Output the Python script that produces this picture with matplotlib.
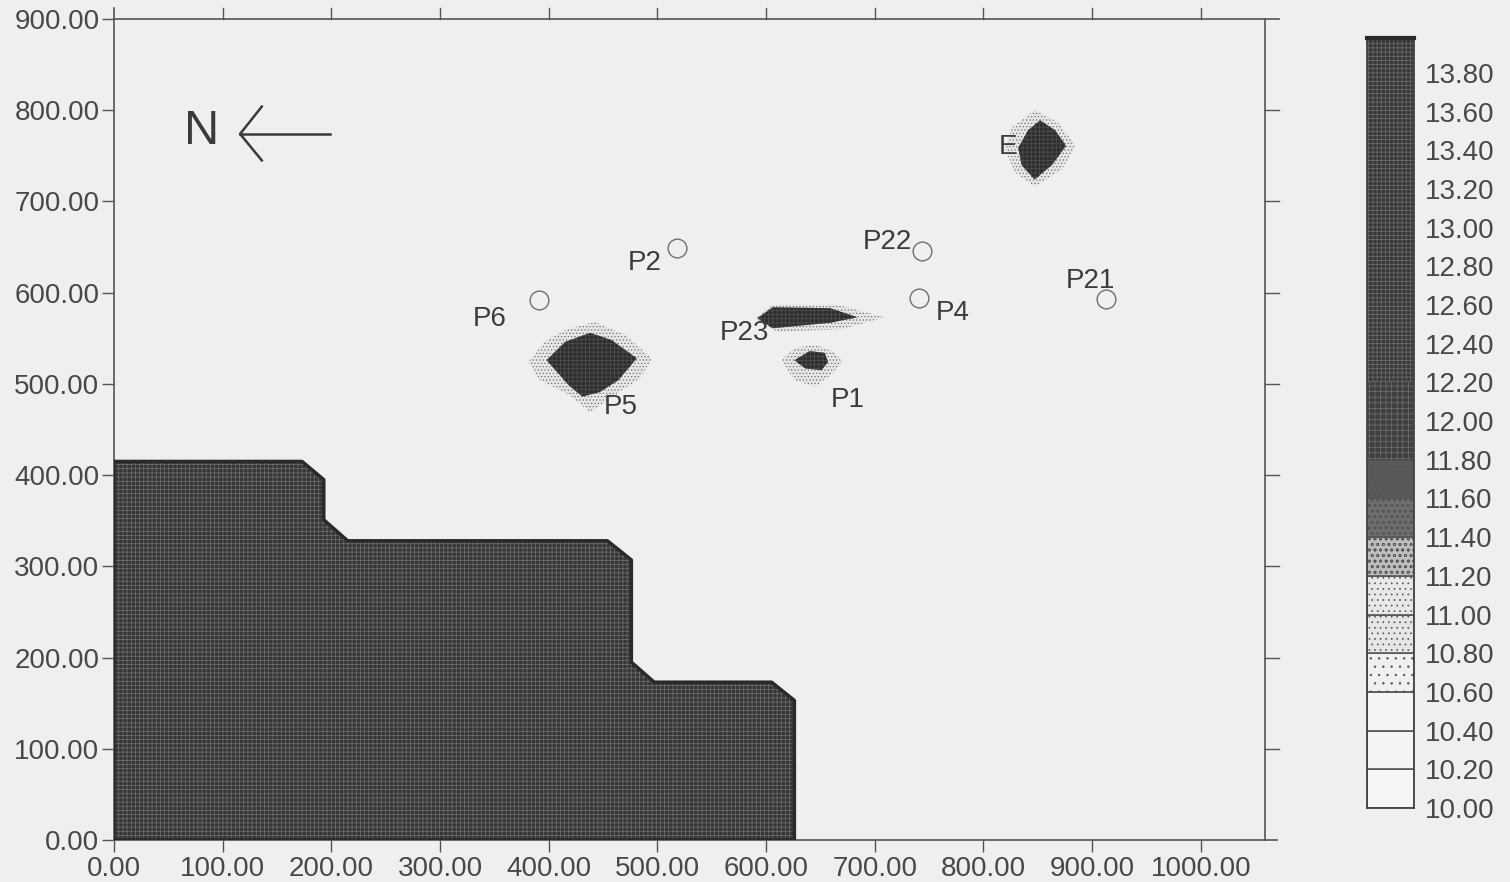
import matplotlib
matplotlib.use("Agg")
import matplotlib.pyplot as plt

# outline of the dark zone (x, y in model units)
zone_x = [0, 0, 173, 193, 193, 215, 454, 476, 476, 497, 605, 626, 626]
zone_y = [0, 415, 415, 395, 351, 328, 328, 307, 195, 173, 173, 153, 0]

# contour blobs, outer halo and dark core
p5_halo = [(381,524),(396,546),(415,559),(442,568),(470,554),(495,528),(484,506),(461,488),(438,469),(419,488),(392,504)]
p5_core = [(398,526),(415,546),(438,556),(458,548),(481,528),(464,504),(447,491),(431,486),(418,499)]
p23_halo = [(590,572),(606,587),(665,587),(709,573),(670,560),(610,557)]
p23_core = [(592,572),(606,584),(659,583),(684,573),(659,567),(606,561)]
p1_halo = [(614,526),(626,539),(645,543),(663,535),(670,524),(660,510),(645,497),(626,504)]
p1_core = [(626,526),(640,536),(654,534),(657,524),(651,515),(636,517)]
e_halo = [(820,757),(826,781),(847,800),(868,787),(885,761),(872,735),(847,716),(829,732)]
e_core = [(832,759),(841,778),(852,789),(866,778),(876,761),(863,740),(847,724),(835,740)]

# observation wells
well_x = [518, 391, 743, 741, 913]
well_y = [649, 592, 646, 594, 593]

# labels
label_names = ["P2", "P6", "P22", "P4", "P21", "P23", "P5", "P1", "E"]
label_x = [488, 346, 712, 772, 898, 580, 466, 675, 823]
label_y = [632, 571, 656, 578, 613, 556, 475, 482, 760]

# legend bands
levels = [10.0, 10.2, 10.4, 10.6, 10.8, 11.0, 11.2, 11.4, 11.6, 11.8, 12.0, 12.2, 12.4,
          12.6, 12.8, 13.0, 13.2, 13.4, 13.6, 13.8, 14.0]
band_colors = ["#f6f6f6", "#f4f4f4", "#f4f4f4", "#f0f0f0", "#e6e6e6", "#e8e8e8", "#bdbdbd", "#6e6e6e", "#5a5a5a",
               "#404040", "#404040", "#3a3a3a", "#3a3a3a", "#383838", "#383838", "#383838", "#383838",
               "#383838", "#383838", "#383838"]
band_hatch = [None, None, None, "..", "...", "...", "ooo", "ooo", "ooo", "+++", "+++", "++++", "++++",
              "++++", "++++", "++++", "++++", "++++", "++++", "++++"]
cbar_ticks = [10.0, 10.2, 10.4, 10.6, 10.8, 11.0, 11.2, 11.4, 11.6, 11.8, 12.0, 12.2, 12.4,
              12.6, 12.8, 13.0, 13.2, 13.4, 13.6, 13.8]

plt.rcParams["font.family"] = ["Liberation Sans", "DejaVu Sans"]
plt.rcParams["hatch.linewidth"] = 0.5

paper = "#efefef"
ink = "#484848"

fig = plt.figure(figsize=(15.1, 8.82), dpi=100, facecolor=paper)
ax = fig.add_axes([114/1510, (882-840)/882, 1151/1510, 821/882], facecolor=paper)
xmax = 1059.0
ymax = 900.0
ax.set_xlim(0, xmax)
ax.set_ylim(0, ymax)

ax.fill(zone_x, zone_y, facecolor="#363636", edgecolor="#707070", hatch="++++", linewidth=0, zorder=2)
ax.plot(zone_x + zone_x[:1], zone_y + zone_y[:1], color="#2a2a2a", lw=2.5, zorder=3)

for halo, core in [(p5_halo, p5_core), (p23_halo, p23_core), (p1_halo, p1_core), (e_halo, e_core)]:
    ax.fill([p[0] for p in halo], [p[1] for p in halo], facecolor="#e6e6e6", edgecolor="#707070",
            hatch=".....", linewidth=0, zorder=2)
    ax.fill([p[0] for p in core], [p[1] for p in core], facecolor="#2e2e2e", edgecolor="#505050",
            hatch="++++", linewidth=0, zorder=3)

ax.plot(well_x, well_y, "o", ms=13.5, mfc="none", mec="#707070", mew=1.0, zorder=4)

for name, x, y in zip(label_names, label_x, label_y):
    ax.text(x, y, name, fontsize=20, color="#3c3c3c", ha="center", va="center", zorder=5)

# north arrow
ax.text(81, 777, "N", fontsize=35, color="#3a3a3a", ha="center", va="center")
ax.plot([199, 116], [774, 774], color="#3a3a3a", lw=1.8)
ax.plot([136, 116, 136], [804, 774, 745], color="#3a3a3a", lw=1.8)

ticks_x = [i * 100 for i in range(11)]
ticks_y = [i * 100 for i in range(10)]
ax.set_xticks(ticks_x)
ax.set_xticklabels(["%.2f" % t for t in ticks_x])
ax.set_yticks(ticks_y)
ax.set_yticklabels(["%.2f" % t for t in ticks_y])
ax.tick_params(axis="both", labelsize=20, labelcolor=ink, color="#555555", width=1.0, length=8.5)
ax.tick_params(axis="x", pad=3)
ax.tick_params(axis="y", pad=2)

for s in ax.spines.values():
    s.set_color("#555555")
    s.set_linewidth(1.2)

# frame lines stick out past the axes
ax.plot([xmax, 1072], [ymax, ymax], color="#555555", lw=1.2, clip_on=False)
ax.plot([xmax, 1070], [0, 0], color="#555555", lw=1.2, clip_on=False)
ax.plot([0, 0], [ymax, 912], color="#555555", lw=1.2, clip_on=False)
for t in ticks_x[1:]:
    ax.plot([t, t], [ymax, 912], color="#555555", lw=1.0, clip_on=False)
for t in ticks_y[1:-1]:
    ax.plot([xmax, 1072], [t, t], color="#555555", lw=1.0, clip_on=False)

# legend column
cax = fig.add_axes([1367/1510, (882-808)/882, 47/1510, 770/882], facecolor=paper)
for i in range(len(band_colors)):
    dark = i >= 9
    cax.bar(0, levels[i+1]-levels[i], bottom=levels[i], width=1, color=band_colors[i],
            hatch=band_hatch[i], edgecolor="#707070" if dark else "#555555",
            linewidth=0 if dark else 1.2)
cax.set_xlim(-0.5, 0.5)
cax.set_ylim(10, 13.98)
cax.set_xticks([])
cax.yaxis.tick_right()
cax.set_yticks(cbar_ticks)
cax.set_yticklabels(["%.2f" % t for t in cbar_ticks])
cax.tick_params(axis="y", length=0, pad=8, labelsize=20, labelcolor=ink)
for s in cax.spines.values():
    s.set_color("#444444")
    s.set_linewidth(1.3)
cax.spines["top"].set_linewidth(3)
cax.spines["top"].set_color("#2a2a2a")

fig.savefig("out.png", dpi=100, facecolor=paper)
